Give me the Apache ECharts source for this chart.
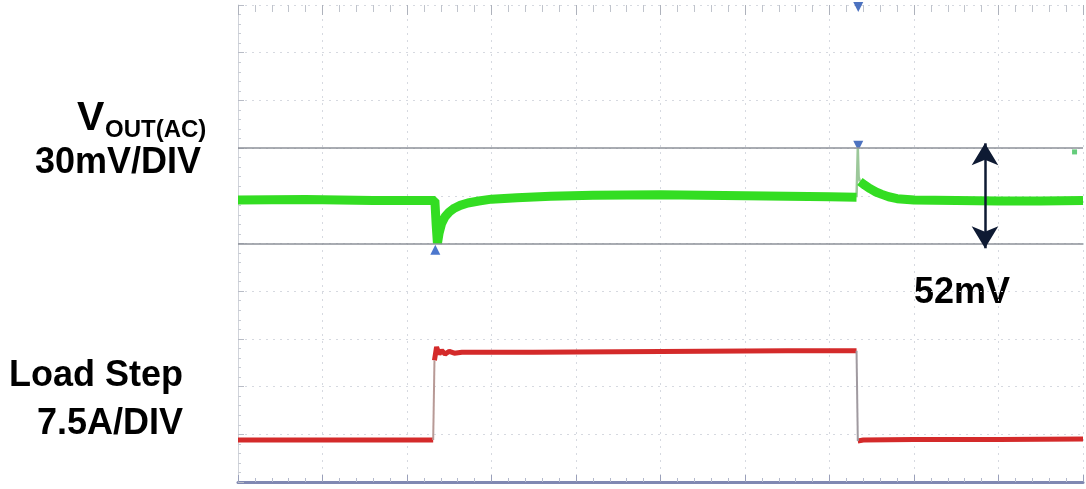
<!DOCTYPE html>
<html>
<head>
<meta charset="utf-8">
<script src="https://cdn.jsdelivr.net/npm/echarts@6/dist/echarts.min.js"></script>
<style>
html,body{margin:0;padding:0;background:#fff;}
#c{width:1086px;height:489px;}
</style>
</head>
<body>
<div id="c"></div>
<script>
// Horizontal axis: time in divisions (0..10); vertical axis: screen divisions (0..10)
const xDivisions = [0, 10];
const yDivisions = [0, 10];

// VOUT(AC) trace (green), in screen divisions
const voutX = [0, 0.8, 1.6, 2.33, 2.345, 2.36, 2.38, 2.41, 2.45, 2.5, 2.56, 2.63, 2.72, 2.85, 3.0, 3.3, 3.7, 4.2, 5.0, 6.0, 7.0, 7.32];
const voutY = [5.91, 5.92, 5.90, 5.90, 5.40, 5.00, 5.22, 5.42, 5.56, 5.66, 5.74, 5.80, 5.85, 5.89, 5.93, 5.96, 5.99, 6.01, 6.02, 6.00, 5.98, 5.97];
const vout2X = [7.36, 7.42, 7.48, 7.55, 7.62, 7.7, 7.8, 8.0, 8.5, 9.0, 9.5, 10];
const vout2Y = [6.30, 6.22, 6.15, 6.08, 6.03, 5.98, 5.94, 5.91, 5.90, 5.89, 5.89, 5.90];
const spikeX = [7.32, 7.335, 7.345, 7.36];
const spikeY = [5.97, 7.00, 6.40, 6.30];

// Load step trace (red)
const loadLowAX = [0, 0.8, 1.6, 2.31];
const loadLowAY = [0.88, 0.88, 0.88, 0.88];
const loadHighX = [2.325, 2.35, 2.38, 2.41, 2.45, 2.5, 2.56, 2.65, 3.5, 4.5, 5.5, 6.5, 7.32];
const loadHighY = [2.55, 2.83, 2.68, 2.76, 2.68, 2.74, 2.70, 2.72, 2.72, 2.73, 2.74, 2.75, 2.75];
const loadLowBX = [7.335, 7.4, 8.0, 9.0, 10];
const loadLowBY = [0.86, 0.88, 0.89, 0.89, 0.90];
const edgeUpX = [2.31, 2.325];
const edgeUpY = [0.88, 2.55];
const edgeDownX = [7.32, 7.335];
const edgeDownY = [2.75, 0.86];

// Cursor / marker values
const cursorLevels = [7, 5];
const measureX = 8.84;
const measureTop = 7.1;
const measureBottom = 4.9;
const upMarkers = [[2.335, 4.87]];
const downMarkers = [[7.34, 7.05], [7.34, 9.96]];
const chMarker = [[9.9, 6.92]];

const pairs = (xs, ys) => xs.map((x, i) => [x, ys[i]]);

const chart = echarts.init(document.getElementById('c'));
const gridLine = {show: true, lineStyle: {color: '#d6d9e0', type: [2, 5], width: 1}};
const font = '"Liberation Sans", Arial, sans-serif';

chart.setOption({
  animation: false,
  backgroundColor: '#ffffff',
  grid: {left: 238, right: 3, top: 5, bottom: 7, containLabel: false},
  xAxis: [{
    type: 'value', min: xDivisions[0], max: xDivisions[1], interval: 1,
    axisLabel: {show: false},
    axisLine: {show: true, lineStyle: {color: '#8088b2', width: 3}},
    axisTick: {show: true, inside: true, length: 7, lineStyle: {color: '#9aa0ba'}},
    minorTick: {show: true, splitNumber: 5, length: 4, lineStyle: {color: '#b4b9cc'}},
    splitLine: gridLine
  }, {
    type: 'value', position: 'top', min: xDivisions[0], max: xDivisions[1], interval: 1,
    axisLabel: {show: false},
    axisLine: {show: false},
    axisTick: {show: true, inside: true, length: 10, lineStyle: {color: '#aeb2bc'}},
    minorTick: {show: true, splitNumber: 5, length: 7, lineStyle: {color: '#c0c4cc'}},
    splitLine: {show: false}
  }],
  yAxis: [{
    type: 'value', min: yDivisions[0], max: yDivisions[1], interval: 1,
    axisLabel: {show: false},
    axisLine: {show: true, lineStyle: {color: '#d0d3da', width: 1}},
    axisTick: {show: true, inside: true, length: 6, lineStyle: {color: '#b8bcc6'}},
    minorTick: {show: true, splitNumber: 5, length: 3, lineStyle: {color: '#c8ccd4'}},
    splitLine: gridLine
  }],
  series: [
    {
      type: 'line', data: pairs(loadLowAX, loadLowAY), showSymbol: false, silent: true,
      lineStyle: {color: '#d42a2a', width: 5},
      markLine: {
        silent: true, symbol: 'none', label: {show: false},
        lineStyle: {color: '#8c9099', width: 1.5, type: 'solid'},
        data: cursorLevels.map(v => ({yAxis: v}))
      }
    },
    {type: 'line', data: pairs(loadHighX, loadHighY), showSymbol: false, silent: true, lineStyle: {color: '#d42a2a', width: 5}},
    {type: 'line', data: pairs(loadLowBX, loadLowBY), showSymbol: false, silent: true, lineStyle: {color: '#d42a2a', width: 5}},
    {type: 'line', data: pairs(edgeUpX, edgeUpY), showSymbol: false, silent: true, lineStyle: {color: '#b89a96', width: 2}},
    {type: 'line', data: pairs(edgeDownX, edgeDownY), showSymbol: false, silent: true, lineStyle: {color: '#a09aa0', width: 2}},
    {type: 'line', data: pairs(spikeX, spikeY), showSymbol: false, silent: true, lineStyle: {color: '#9cc89a', width: 2.5}},
    {type: 'line', data: pairs(voutX, voutY), showSymbol: false, silent: true, lineStyle: {color: '#33dd22', width: 9}},
    {
      type: 'line', data: pairs(vout2X, vout2Y), showSymbol: false, silent: true, lineStyle: {color: '#33dd22', width: 9},
      markLine: {
        silent: true, symbol: ['arrow', 'arrow'], symbolSize: [20, 22], label: {show: false},
        lineStyle: {color: '#0e1a33', width: 2.5, type: 'solid'},
        data: [[{coord: [measureX, measureTop]}, {coord: [measureX, measureBottom]}]]
      }
    },
    {type: 'scatter', data: upMarkers, symbol: 'triangle', symbolSize: 10, itemStyle: {color: '#1f55c0'}, silent: true},
    {type: 'scatter', data: downMarkers, symbol: 'triangle', symbolRotate: 180, symbolSize: 10, itemStyle: {color: '#1f4fb0'}, silent: true},
    {type: 'scatter', data: chMarker, symbol: 'rect', symbolSize: 5, itemStyle: {color: '#3fbf5a'}, silent: true}
  ],
  graphic: [
    {type: 'text', left: 77, top: 98, style: {text: 'V', font: 'bold 41px ' + font, fill: '#000'}},
    {type: 'text', left: 105, top: 118, style: {text: 'OUT(AC)', font: 'bold 24px ' + font, fill: '#000'}},
    {type: 'text', left: 35, top: 145, style: {text: '30mV/DIV', font: 'bold 36px ' + font, fill: '#000'}},
    {type: 'text', left: 9, top: 358, style: {text: 'Load Step', font: 'bold 36px ' + font, fill: '#000'}},
    {type: 'text', left: 37, top: 406, style: {text: '7.5A/DIV', font: 'bold 36px ' + font, fill: '#000'}},
    {type: 'text', left: 914, top: 275, style: {text: '52mV', font: 'bold 36px ' + font, fill: '#000'}}
  ]
});
</script>
</body>
</html>
